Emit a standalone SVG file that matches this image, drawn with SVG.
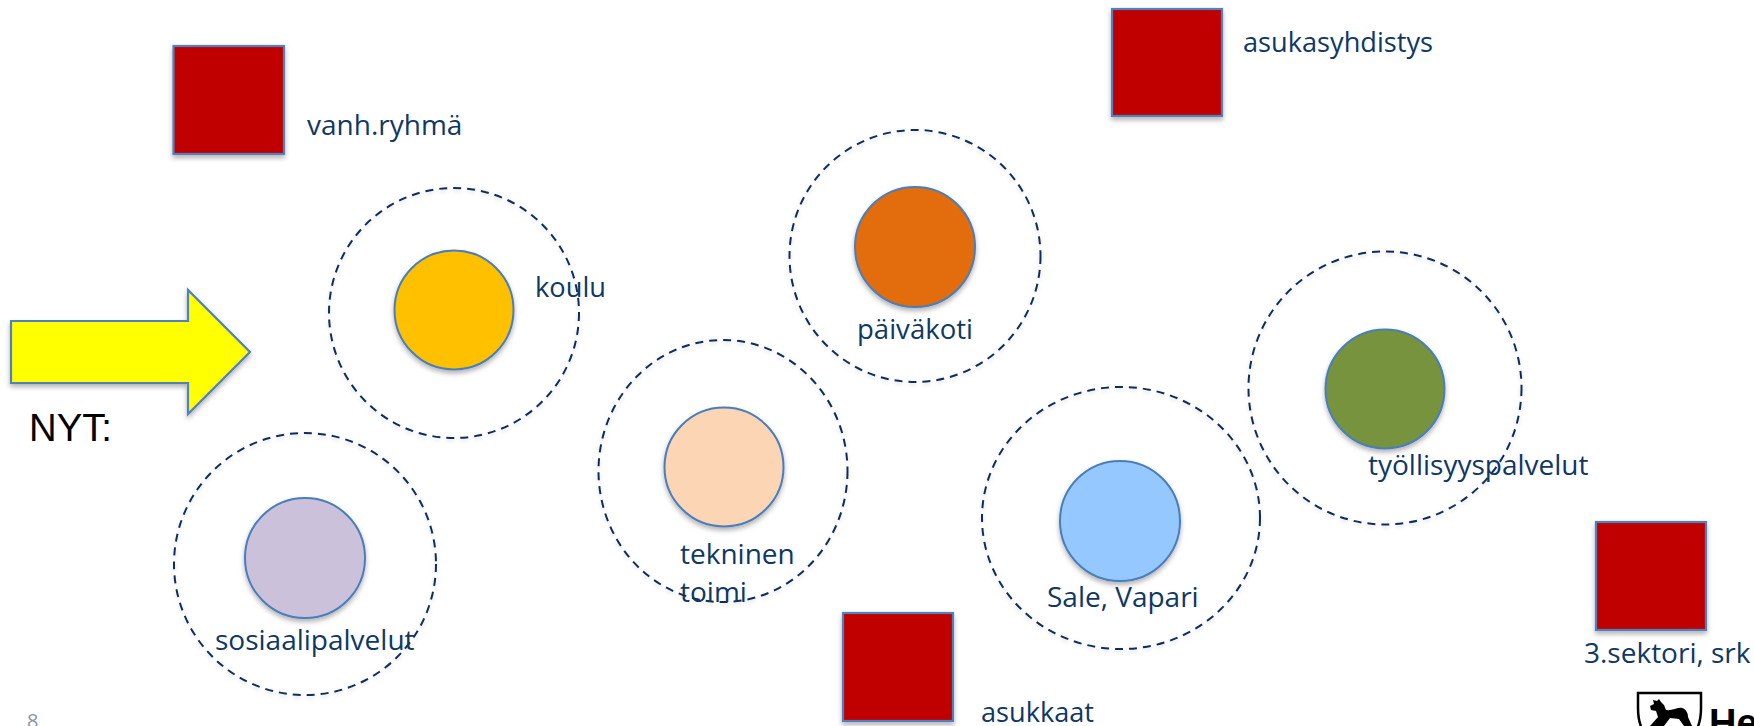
<svg xmlns="http://www.w3.org/2000/svg" width="1754" height="726" viewBox="0 0 1754 726">
<defs>
<filter id="sh" x="-20%" y="-20%" width="140%" height="140%"><feDropShadow dx="0" dy="3" stdDeviation="2.5" flood-color="#000" flood-opacity="0.3"/></filter>
<filter id="shl" x="-5%" y="-5%" width="110%" height="110%"><feDropShadow dx="0" dy="2" stdDeviation="2" flood-color="#000" flood-opacity="0.15"/></filter>
</defs>
<style>
.sq{fill:#c00000;stroke:#4f81bd;stroke-width:2.2;filter:url(#sh)}
.in{stroke:#4a7ebb;stroke-width:2;filter:url(#sh)}
.out{fill:none;stroke:#0f2f5c;stroke-width:2;stroke-dasharray:8 6;filter:url(#shl)}
.t{font-family:"Open Sans","Noto Sans",sans-serif;font-size:28px;fill:#0f3864}
</style>
<rect width="1754" height="726" fill="#fff"/>
<g id="arrow"><path d="M11 321H188V290L250 352L188 414V383H11Z" fill="#ffff00" stroke="#4f81bd" stroke-width="2.2" filter="url(#sh)"/></g>
<text id="nyt" x="29" y="441" font-family="'Liberation Sans',sans-serif" font-size="39" fill="#000" textLength="83" lengthAdjust="spacingAndGlyphs">NYT:</text>
<text id="page" x="27" y="728" font-family="'Open Sans',sans-serif" font-size="20" fill="#8b93a5">8</text>
<g id="vanh"><rect class="sq" x="173.500" y="46" width="110.500" height="108"/><text class="t" x="307" y="135">vanh.ryhmä</text></g>
<g id="asukasyhdistys"><rect class="sq" x="1112" y="9" width="110" height="107"/><text class="t" x="1243" y="52" textLength="190" lengthAdjust="spacingAndGlyphs">asukasyhdistys</text></g>
<g id="asukkaat"><rect class="sq" x="843" y="613" width="110" height="108"/><text class="t" x="981" y="722" textLength="113" lengthAdjust="spacingAndGlyphs">asukkaat</text></g>
<g id="sektori"><rect class="sq" x="1596" y="522" width="110" height="108"/><text class="t" x="1584" y="663">3.sektori, srk</text></g>
<g id="koulu"><ellipse class="out" cx="454" cy="313" rx="125" ry="125"/><circle class="in" cx="454" cy="310" r="59.500" fill="#ffc000"/><text class="t" x="535" y="297" textLength="71" lengthAdjust="spacingAndGlyphs">koulu</text></g>
<g id="paivakoti"><ellipse class="out" cx="915" cy="256" rx="125.500" ry="126"/><circle class="in" cx="915" cy="247" r="60" fill="#e36c09"/><text class="t" x="857" y="339" textLength="116" lengthAdjust="spacingAndGlyphs">päiväkoti</text></g>
<g id="tekninen"><ellipse class="out" cx="723" cy="471" rx="124.500" ry="131"/><circle class="in" cx="724" cy="467" r="59.500" fill="#fcd5b5"/><text class="t" x="680" y="564">tekninen</text><text class="t" x="680" y="602">toimi</text></g>
<g id="sosiaali"><ellipse class="out" cx="305" cy="564" rx="131" ry="131"/><circle class="in" cx="305" cy="558" r="60" fill="#ccc1da"/><text class="t" x="215" y="650">sosiaalipalvelut</text></g>
<g id="sale"><ellipse class="out" cx="1121" cy="518" rx="139" ry="131"/><circle class="in" cx="1120" cy="521" r="60" fill="#95c8ff"/><text class="t" x="1047" y="607">Sale, Vapari</text></g>
<g id="tyollisyys"><ellipse class="out" cx="1385" cy="388" rx="136.500" ry="136.500"/><circle class="in" cx="1385" cy="389" r="59.500" fill="#77933c"/><text class="t" x="1368" y="475">työllisyyspalvelut</text></g>
<g id="logo"><path d="M1638 693H1701V708C1701 720 1699 727 1694 734H1645C1640 727 1638 720 1638 708Z" fill="#fff" stroke="#000" stroke-width="2.500"/><path d="M1650 706L1654 704L1653 700L1657 701L1659 699L1661 702L1664 705L1666 710C1672 711 1678 707 1682 708C1686 709 1688 713 1688 717L1692 726H1684L1679 719L1670 718L1664 726H1650L1658 717L1656 711L1651 710Z" fill="#000"/><text x="1709" y="736" font-family="'Liberation Sans',sans-serif" font-weight="700" font-size="38" fill="#000">He</text></g>
</svg>
